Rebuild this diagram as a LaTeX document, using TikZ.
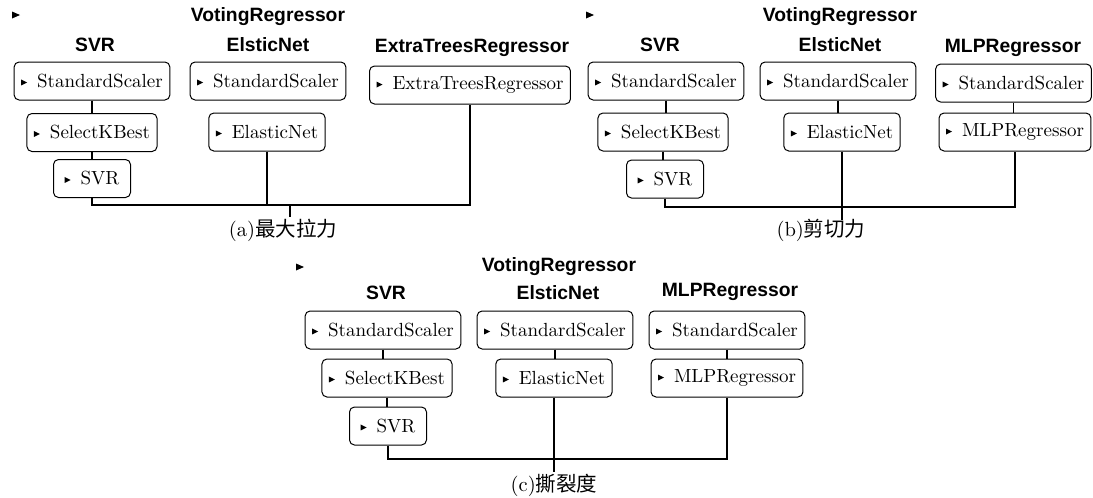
\documentclass[tikz,border=0pt]{standalone}
\usepackage{fontspec}
\newfontfamily\cjk{Noto Sans CJK SC}
\newfontfamily\hsans{Liberation Sans}
\newfontfamily\lmx{lmroman10-regular.otf}
\newcommand\tri{\tikz[baseline=0pt, sharp corners]\fill (0pt,2pt) -- (6pt,5pt) -- (0pt,8pt) -- cycle;\hspace{10pt}}
\tikzset{
  box/.style={draw, line width=1pt, rounded corners=5pt, minimum height=38pt, inner xsep=7pt, inner ysep=0pt, font=\lmx\fontsize{19}{22}\selectfont},
  ttl/.style={font=\hsans\bfseries\fontsize{19.3}{22}\selectfont, inner sep=0pt},
  captxt/.style={font=\lmx\fontsize{20.5}{24}\selectfont, inner sep=0pt},
  conn/.style={line width=1.8pt}
}
\begin{document}
\begin{tikzpicture}[x=1pt,y=1pt]
\useasboundingbox (0,0) rectangle (1093,-498);
% ---------- panel (a)
\fill (12,-11.5) -- (20,-15) -- (12,-18.5) -- cycle;
\node[ttl] (tSVRa) at (95,-45) {SVR};
\node[ttl] (tVRa) at (268,-17) {VotingRegressor};
\node[ttl] (tENa) at (268,-45) {ElsticNet};
\node[ttl] (tETa) at (472,-48) {ExtraTreesRegressor};
\node[box] (ssA1) at (92,-81) {\tri StandardScaler};
\node[box] (skA) at (92,-132.5) {\tri SelectKBest};
\node[box, minimum width=77pt] (svA) at (92,-178.5) {\tri SVR};
\node[box] (ssA2) at (268,-81) {\tri StandardScaler};
\node[box] (enA) at (267,-132) {\tri ElasticNet};
\node[box] (etA) at (470,-85) {\tri ExtraTreesRegressor};
\coordinate (busA) at (290,-205);
\node[captxt] (capA) at (283,-230) {(a){\cjk 最大拉力}};
\draw[conn] (ssA1.south) -- (ssA1.south |- skA.north);
\draw[conn] (skA.south) -- (skA.south |- svA.north);
\draw[conn] (svA.south) |- (busA) -| (etA.south);
\draw[conn] (enA.south) -- (enA.south |- busA);
\draw[conn] (busA) -- ++(0,-12);
% ---------- panel (b)
\fill (586,-11.5) -- (594,-15) -- (586,-18.5) -- cycle;
\node[ttl] (tSVRb) at (660,-45) {SVR};
\node[ttl] (tVRb) at (840,-17) {VotingRegressor};
\node[ttl] (tENb) at (840,-45) {ElsticNet};
\node[ttl] (tMLPb) at (1013,-48) {MLPRegressor};
\node[box] (ssB1) at (666,-81) {\tri StandardScaler};
\node[box] (skB) at (663,-132) {\tri SelectKBest};
\node[box, minimum width=77pt] (svB) at (665,-179) {\tri SVR};
\node[box] (ssB2) at (838,-81) {\tri StandardScaler};
\node[box] (enB) at (842,-132) {\tri ElasticNet};
\node[box] (ssB3) at (1013.5,-83) {\tri StandardScaler};
\node[box] (mlB) at (1015,-132) {\tri MLPRegressor};
\coordinate (busB) at (842,-207);
\node[captxt] (capB) at (821,-230) {(b){\cjk 剪切力}};
\draw[conn] (ssB1.south) -- (ssB1.south |- skB.north);
\draw[conn] (skB.south) -- (skB.south |- svB.north);
\draw[conn] (svB.south) |- (busB) -| (mlB.south);
\draw[conn] (ssB2.south) -- (ssB2.south |- enB.north);
\draw[conn] (ssB3.south) -- (ssB3.south |- mlB.north);
\draw[conn] (enB.south) -- (enB.south |- busB) -- ++(0,-13);
% ---------- panel (c)
\fill (296,-263.5) -- (304,-267) -- (296,-270.5) -- cycle;
\node[ttl] (tSVRc) at (386,-293) {SVR};
\node[ttl] (tVRc) at (559,-267) {VotingRegressor};
\node[ttl] (tENc) at (558,-293) {ElsticNet};
\node[ttl] (tMLPc) at (730,-292) {MLPRegressor};
\node[box] (ssC1) at (383,-330) {\tri StandardScaler};
\node[box] (skC) at (387,-378) {\tri SelectKBest};
\node[box, minimum width=77pt] (svC) at (388,-426) {\tri SVR};
\node[box] (ssC2) at (555,-330) {\tri StandardScaler};
\node[box] (enC) at (554,-378) {\tri ElasticNet};
\node[box] (ssC3) at (727,-330) {\tri StandardScaler};
\node[box] (mlC) at (727,-378) {\tri MLPRegressor};
\coordinate (busC) at (554,-459);
\node[captxt] (capC) at (554,-485) {(c){\cjk 撕裂度}};
\draw[conn] (ssC1.south) -- (ssC1.south |- skC.north);
\draw[conn] (skC.south) -- (skC.south |- svC.north);
\draw[conn] (svC.south) |- (busC) -| (mlC.south);
\draw[conn] (ssC2.south) -- (ssC2.south |- enC.north);
\draw[conn] (ssC3.south) -- (ssC3.south |- mlC.north);
\draw[conn] (enC.south) -- (enC.south |- busC) -- ++(0,-13);
\end{tikzpicture}
\end{document}
